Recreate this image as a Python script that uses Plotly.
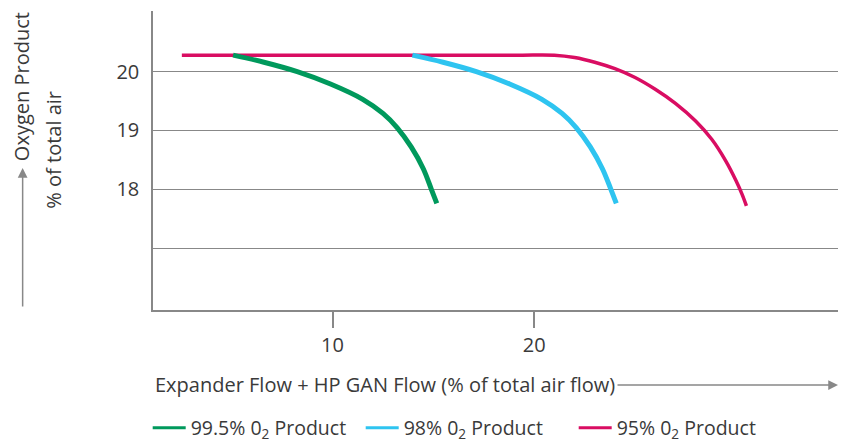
import plotly.graph_objects as go

# ---- data ----
green_x = [5.07, 6.6, 8.25, 9.9, 11.5, 12.5, 13.2, 13.9, 14.5, 14.9, 15.17]
green_y = [20.28, 20.16, 20.0, 19.79, 19.53, 19.29, 19.05, 18.72, 18.35, 18.0, 17.76]

blue_x = [13.96, 15.48, 17.13, 18.78, 20.38, 21.38, 22.08, 22.78, 23.38, 23.8, 24.07]
blue_y = [20.28, 20.16, 20.0, 19.79, 19.53, 19.29, 19.05, 18.72, 18.35, 18.0, 17.76]

red_x = [2.53, 19.0, 21.0, 22.0, 23.0, 24.0, 25.0, 26.0, 27.0, 28.0, 28.8, 29.5, 30.0, 30.3, 30.52]
red_y = [20.28, 20.28, 20.28, 20.24, 20.16, 20.05, 19.9, 19.7, 19.46, 19.16, 18.85, 18.48, 18.15, 17.92, 17.72]

series_names = ["99.5% 0<sub>2</sub> Product", "98% 0<sub>2</sub> Product", "95% 0<sub>2</sub> Product"]
series_colors = ["#00995C", "#2EC4F0", "#D90D62"]

x_tickvals = [10, 20]
x_ticktext = ["10", "20"]
y_tickvals = [17, 18, 19, 20]
y_ticktext = ["", "18", "19", "20"]

# ---- layout geometry (pixels; page body adds an 8px offset) ----
OFF = 8
W, H = 849, 442
L, R, T, B = 153.3 - OFF, 19, 11 - OFF, 140
pw = W - L - R
ph = H - T - B


def px(xs):
    return (xs - OFF - L) / pw


def py(ys):
    return (H - B - (ys - OFF)) / ph


FONT = "Open Sans"
TXT = "#3a3a3a"
GRAY = "#888888"

fig = go.Figure()

curves = [(green_x, green_y, 5), (blue_x, blue_y, 5), (red_x, red_y, 3.5)]
order = [2, 0, 1]
for i in order:
    xs, ys, w = curves[i]
    fig.add_trace(go.Scatter(
        x=xs, y=ys, mode="lines",
        line=dict(color=series_colors[i], width=w, shape="spline", smoothing=1.0),
        showlegend=False, hoverinfo="skip"))

# legend-only traces
for i in range(3):
    fig.add_trace(go.Scatter(
        x=[None], y=[None], mode="lines", name=series_names[i],
        line=dict(color=series_colors[i], width=3), showlegend=True))

fig.update_layout(
    width=W, height=H,
    margin=dict(l=L, r=R, t=T, b=B, autoexpand=False),
    paper_bgcolor="white", plot_bgcolor="white",
    font=dict(family=FONT, size=20, color=TXT),
    showlegend=True,
    legend=dict(orientation="h", x=px(148), y=py(428), xanchor="left", yanchor="middle",
                entrywidth=165, entrywidthmode="pixels", itemwidth=33,
                font=dict(family=FONT, size=19.5, color=TXT), bgcolor="rgba(0,0,0,0)",
                traceorder="normal"),
    xaxis=dict(range=[1.1, 35.06], showgrid=False, zeroline=False,
               showline=True, linecolor=GRAY, linewidth=1.5,
               tickvals=x_tickvals, ticktext=x_ticktext,
               ticks="outside", ticklen=16, tickwidth=1.5, tickcolor=GRAY,
               tickfont=dict(family=FONT, size=20, color=TXT)),
    yaxis=dict(range=[15.95, 21.03], showgrid=True, gridcolor=GRAY, gridwidth=1.3,
               zeroline=False, showline=True, linecolor=GRAY, linewidth=1.5,
               tickvals=y_tickvals, ticktext=y_ticktext, ticks="",
               ticklabelstandoff=8,
               tickfont=dict(family=FONT, size=20, color=TXT)),
)

# axis titles and arrows
fig.add_annotation(text="Expander Flow + HP GAN Flow (% of total air flow)",
                   xref="paper", yref="paper", x=0, y=py(384),
                   xanchor="left", yanchor="middle", showarrow=False,
                   font=dict(family=FONT, size=20, color=TXT))
fig.add_annotation(text="", xref="paper", yref="paper", x=px(838), y=py(385),
                   ax=-222, ay=0, showarrow=True, arrowhead=2, arrowsize=1.3,
                   arrowwidth=1.5, arrowcolor=GRAY)

fig.add_annotation(text="Oxygen Product", xref="paper", yref="paper",
                   x=px(22), y=py(86.5), textangle=-90, xanchor="center", yanchor="middle",
                   showarrow=False, font=dict(family=FONT, size=20, color=TXT))
fig.add_annotation(text="% of total air", xref="paper", yref="paper",
                   x=px(53), y=py(150), textangle=-90, xanchor="center", yanchor="middle",
                   showarrow=False, font=dict(family=FONT, size=20, color=TXT))
fig.add_annotation(text="", xref="paper", yref="paper", x=px(23), y=py(168),
                   ax=0, ay=140, showarrow=True, arrowhead=2, arrowsize=1.3,
                   arrowwidth=1.5, arrowcolor=GRAY)

fig.write_html("out.html")
